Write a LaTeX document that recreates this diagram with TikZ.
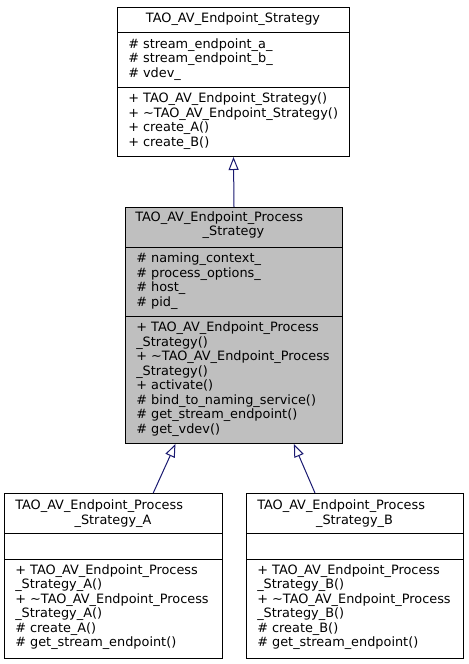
\documentclass[tikz,border=0pt]{standalone}
\usepackage{fontspec}
\setmainfont{DejaVu Sans}
\usetikzlibrary{arrows.meta}
\definecolor{edgeblue}{HTML}{191970}
\definecolor{basegray}{HTML}{BFBFBF}
\begin{document}
\begin{tikzpicture}[x=0.75pt,y=-0.75pt,
		classbox/.style={draw=black,line width=0.75pt,anchor=north west,inner sep=0pt},
		member/.style={anchor=west,align=left,inner sep=0pt,font=\fontsize{9.65}{10.9}\selectfont},
		classname/.style={inner sep=0pt,font=\fontsize{9.65}{10.9}\selectfont},
		inherit/.style={draw=edgeblue,line width=0.75pt,-{Triangle[open,length=9.75pt,width=7.5pt]}}]
			\useasboundingbox (0,0) rectangle (468,664);
			% base class
			\node[classbox,minimum width=174pt,minimum height=111.75pt] (strategy) at (117,7) {};
			\draw (117,32)--(349,32) (117,87)--(349,87);
			\node[classname] (strategyname) at (233,19.5) {TAO\_AV\_Endpoint\_Strategy};
			\node[member] (strategyattr) at (128,59.5) {\# stream\_endpoint\_a\_\\\# stream\_endpoint\_b\_\\\# vdev\_};
			\node[member] (strategyops) at (128,121) {+ TAO\_AV\_Endpoint\_Strategy()\\+ \textasciitilde TAO\_AV\_Endpoint\_Strategy()\\+ create\_A()\\+ create\_B()};
			% process strategy
			\node[classbox,fill=basegray,minimum width=162.75pt,minimum height=177pt] (process) at (125,207) {};
			\draw (125,247)--(342,247) (125,316)--(342,316);
			\node[classname,anchor=west] (processname) at (135,218.3) {TAO\_AV\_Endpoint\_Process};
			\node[classname] (processname2) at (233.5,232.7) {\_Strategy};
			\node[member] (processattr) at (136,281) {\# naming\_context\_\\\# process\_options\_\\\# host\_\\\# pid\_};
			\node[member] (processops) at (136,379) {+ TAO\_AV\_Endpoint\_Process\\\_Strategy()\\+ \textasciitilde TAO\_AV\_Endpoint\_Process\\\_Strategy()\\+ activate()\\\# bind\_to\_naming\_service()\\\# get\_stream\_endpoint()\\\# get\_vdev()};
			% derived A
			\node[classbox,minimum width=163.5pt,minimum height=123.75pt] (procA) at (4,493) {};
			\draw (4,533)--(222,533) (4,559)--(222,559);
			\node[classname,anchor=west] (procAname) at (15,505.7) {TAO\_AV\_Endpoint\_Process};
			\node[classname] (procAname2) at (113,521) {\_Strategy\_A};
			\node[member] (procAops) at (15,607) {+ TAO\_AV\_Endpoint\_Process\\\_Strategy\_A()\\+ \textasciitilde TAO\_AV\_Endpoint\_Process\\\_Strategy\_A()\\\# create\_A()\\\# get\_stream\_endpoint()};
			% derived B
			\node[classbox,minimum width=162.75pt,minimum height=123.75pt] (procB) at (246,493) {};
			\draw (246,533)--(463,533) (246,559)--(463,559);
			\node[classname,anchor=west] (procBname) at (257,505.7) {TAO\_AV\_Endpoint\_Process};
			\node[classname] (procBname2) at (354.5,521) {\_Strategy\_B};
			\node[member] (procBops) at (257,607) {+ TAO\_AV\_Endpoint\_Process\\\_Strategy\_B()\\+ \textasciitilde TAO\_AV\_Endpoint\_Process\\\_Strategy\_B()\\\# create\_B()\\\# get\_stream\_endpoint()};
			% inheritance
			\draw[inherit] (process.north)--(strategy.south);
			\draw[inherit] ([xshift=29.8pt]procA.north)--([xshift=-43.9pt]process.south);
			\draw[inherit] ([xshift=-30pt]procB.north)--([xshift=44.9pt]process.south);
		\end{tikzpicture}
\end{document}
